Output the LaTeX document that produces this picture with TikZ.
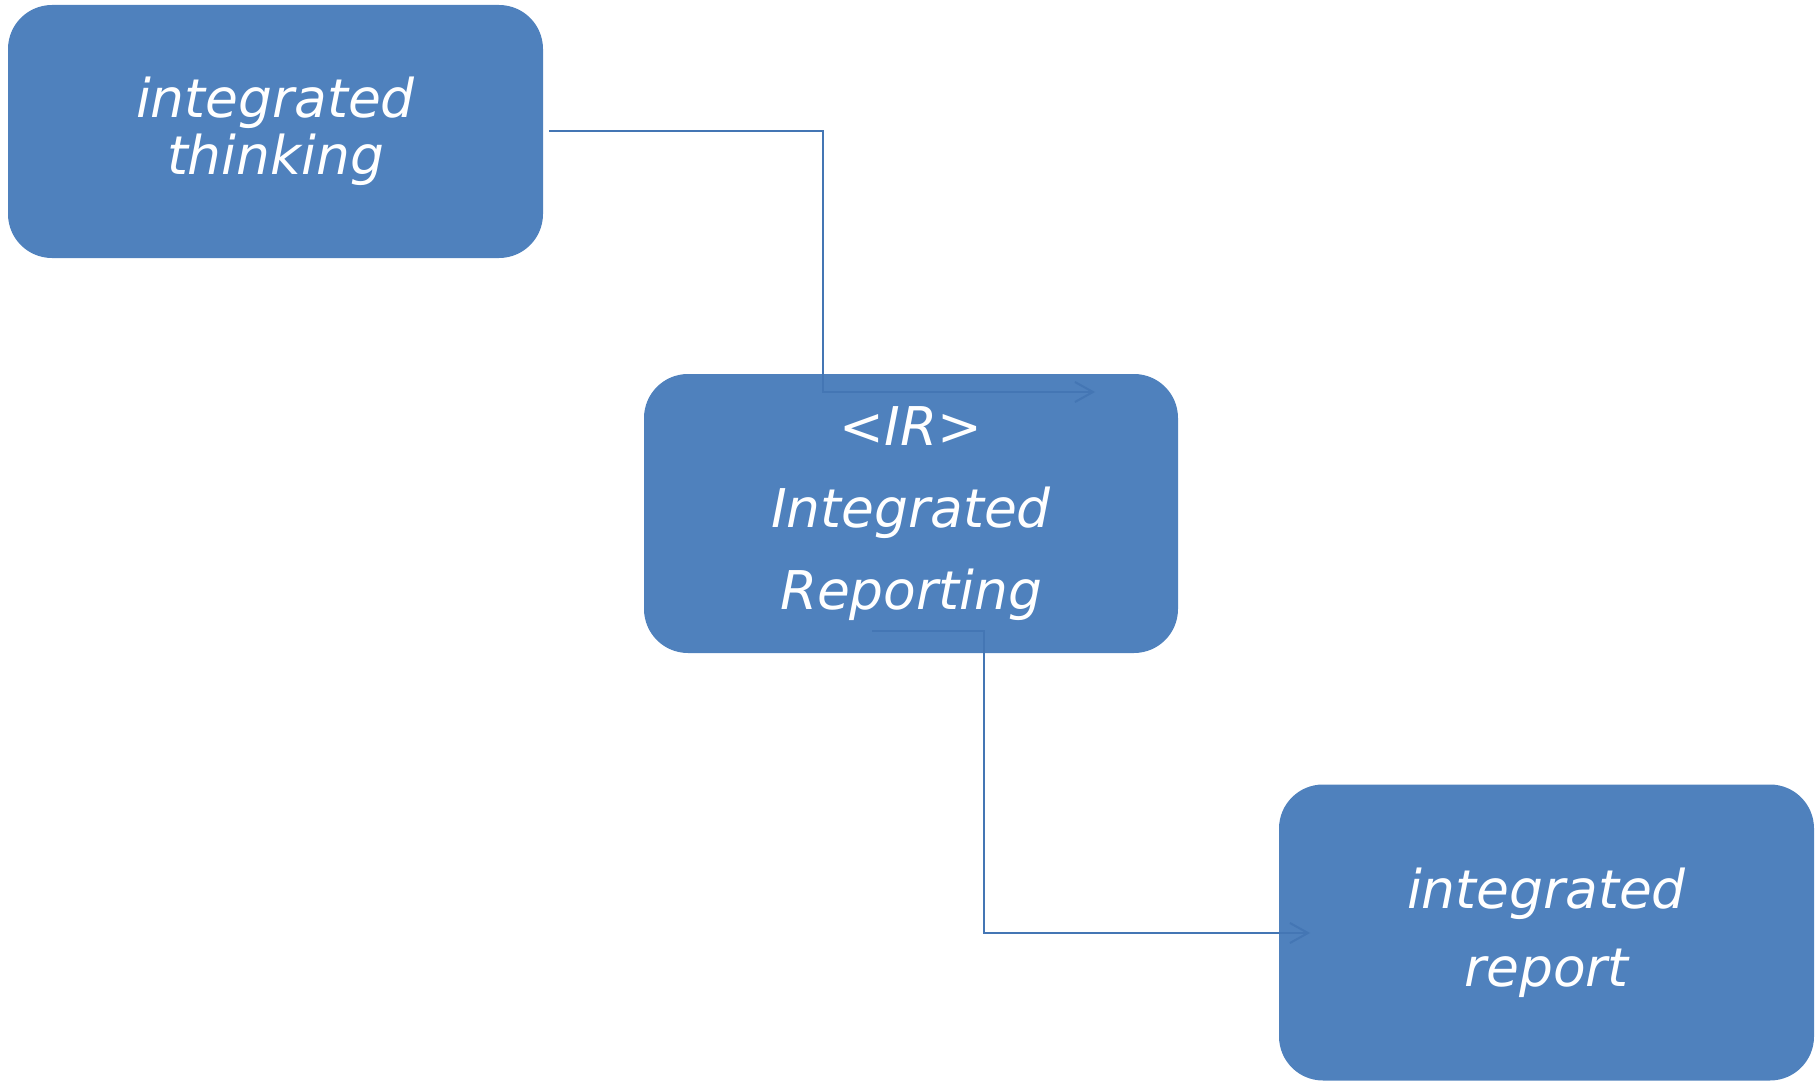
\documentclass[tikz,border=0pt]{standalone}
\usepackage{fontspec}
\setmainfont{DejaVu Sans}
\usepackage{tikz}
\usetikzlibrary{arrows.meta,shapes}
\definecolor{boxblue}{HTML}{4F81BD}
\definecolor{lineblue}{HTML}{4476B4}
\tikzstyle{block}=[rectangle,rounded corners=22pt,fill=boxblue,text=white,align=center,inner sep=0pt]
\tikzstyle{link} = [draw=lineblue,line width=1pt,-{Straight Barb[length=9pt,width=10pt,line width=1pt]}]

\begin{document}
\begin{tikzpicture}[x=0.5pt,y=-0.5pt]
        \useasboundingbox (0,0) rectangle (1817,1081);
        \node[block,minimum width=267.5pt,minimum height=126.5pt,
          font=\fontsize{26.7}{28.5}\selectfont\itshape] (think) at (275.5,131.5)
          {integrated\\ thinking};
        \node[block,minimum width=267pt,minimum height=139.5pt,
          font=\fontsize{26.7}{41}\selectfont\itshape] (ir) at (911,513.5)
          {<IR>\\ Integrated\\ Reporting};
        \node[block,minimum width=267.5pt,minimum height=148pt,
          font=\fontsize{26.7}{39}\selectfont\itshape] (report) at (1546.5,932.5)
          {integrated\\ report};
        \coordinate (s1) at ([xshift=3pt]think.east);
        \coordinate (k1) at (823,392);
        \coordinate (a1) at (1095,392);
        \coordinate (s2) at (872,631);
        \coordinate (k2) at (984,933);
        \coordinate (a2) at (1310,933);
        \draw[link] (s1) -| (k1) -- (a1);
        \draw[link] (s2) -| (k2) -- (a2);
      \end{tikzpicture}
\end{document}
